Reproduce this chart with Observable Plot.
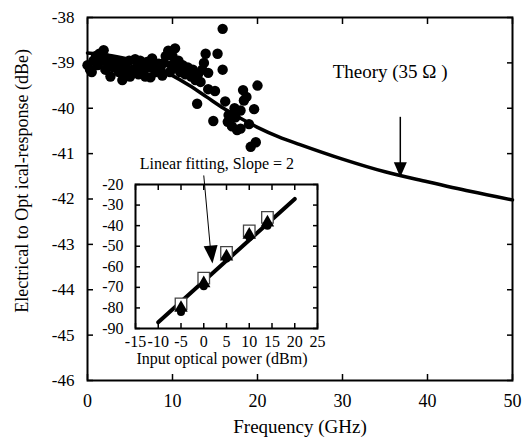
<!DOCTYPE html>
<html><head><meta charset="utf-8">
<script src="https://cdn.jsdelivr.net/npm/d3@7"></script>
<script src="https://cdn.jsdelivr.net/npm/@observablehq/plot@0.6"></script>
<style>
body{margin:0;background:#fff;}
#wrap{position:relative;width:524px;height:441px;background:#fff;}
#wrap svg{position:absolute;left:0;top:0;}
#wrap svg, #wrap svg text{font-family:"Liberation Serif","DejaVu Serif",serif !important;}
</style></head><body><div id="wrap"></div>
<script>
// ---- main chart data ----
const measFreq = [0.0,0.3,0.7,1.0,1.4,1.9,2.3,2.7,3.0,3.3,
  3.7,4.1,4.5,4.9,5.3,5.6,6.0,6.4,6.8,7.2,
  7.6,8.0,8.4,8.8,9.2,9.5,9.9,10.3,10.7,10.9,
  0.5,1.2,1.7,2.1,2.5,3.5,4.0,4.3,5.0,5.8,6.2,6.6,7.0,7.4,7.9,8.6,9.0,9.7,10.0,10.5,11.2,11.8,12.4,13.0,
  11.5,12.2,12.7,13.3,13.5,13.7,13.9,14.2,12.9,14.2,15.0,15.3,15.9,15.9,
  16.2,14.8,16.5,17.0,17.4,17.6,18.0,18.4,18.3,18.7,19.0,19.6,20.0,19.2,19.8,16.6,17.3,18.0];
const measDBe = [-39.05,-39.15,-38.95,-38.85,-38.8,-38.72,-38.9,-39.3,-39.1,-38.95,
  -39.2,-39.38,-39.1,-38.95,-39.15,-38.92,-39.25,-39.05,-39.3,-39.1,
  -38.9,-39.2,-39.02,-39.28,-38.85,-38.73,-39.05,-38.68,-38.95,-39.2,
  -39.2,-39.05,-38.95,-39.15,-39.05,-39.05,-39.0,-39.25,-39.3,-39.1,-38.95,-39.15,-38.98,-39.32,-39.05,-39.15,-39.0,-39.2,-38.85,-39.1,-39.05,-39.1,-39.15,-39.25,
  -39.25,-39.3,-39.38,-39.42,-39.15,-39.0,-38.8,-39.22,-39.9,-39.58,-39.62,-38.8,-39.15,-38.25,
  -39.85,-40.28,-40.3,-40.4,-40.2,-40.48,-40.05,-39.83,-39.6,-39.75,-40.35,-40.02,-39.5,-40.85,-40.75,-40.15,-40.0,-40.45];
const theoryFreq = [0,2,5,8,10,12,14,16,18,20,22.5,25,30,35,40,45,50];
const theoryDBe = [-38.78,-38.82,-38.93,-39.12,-39.28,-39.5,-39.75,-40.0,-40.22,-40.42,-40.63,-40.8,-41.12,-41.4,-41.62,-41.83,-42.02];
const xTicks = [0,10,20,30,40,50];
const yTicks = [-46,-45,-44,-43,-42,-41,-40,-39,-38];
const theoryLabel = "Theory (35 \u03A9 )";
const theoryLabelAt = [35.6, -39.2];
const theoryArrow = {x: 36.8, yFrom: -40.2, yTo: -41.3, tip: -41.52};

// ---- inset data ----
const insetPower = [-5, 0, 5, 10, 14];
const insetSquare = [-78, -65.5, -53, -42.5, -36];
const insetTriangle = [-80, -68, -55, -44.5, -38.5];
const insetCircle = [-82, -69.5, -56, -45.5, -40];
const fitPower = [-10, 20];
const fitDBm = [-87, -27];
const insetXTicks = [-15,-10,-5,0,5,10,15,20,25];
const insetYTicks = [-90,-80,-70,-60,-50,-40,-30,-20];
const fitLabel = "Linear fitting, Slope = 2";
const fitArrow = {x1: 0, y1: -15.6, x2: 1.5, y2: -52, tipX: 1.92, tipY: -58.4};

const serif = "Liberation Serif";
const meas = measFreq.map((f, i) => ({f, v: measDBe[i]}));
const theory = theoryFreq.map((f, i) => ({f, v: theoryDBe[i]}));

const downHead = {draw(ctx) { ctx.moveTo(0, 0); ctx.lineTo(-6.5, -15); ctx.lineTo(6.5, -15); ctx.closePath(); }};
const tiltHead = {draw(ctx) { ctx.moveTo(0, 0); ctx.lineTo(5.1, -18.6); ctx.lineTo(-8.8, -17.2); ctx.closePath(); }};

const main = Plot.plot({
  width: 524, height: 441,
  marginLeft: 87, marginRight: 12, marginTop: 17, marginBottom: 61,
  style: {fontFamily: serif, background: "transparent", color: "black"},
  x: {domain: [0, 50]},
  y: {domain: [-46, -38]},
  marks: [
    Plot.axisX({ticks: xTicks, tickSize: 0, tickPadding: 14, fontSize: 18, label: null}),
    Plot.axisY({ticks: yTicks, tickSize: 0, tickPadding: 13, fontSize: 17, label: null, tickFormat: d => String(d)}),
    Plot.axisX({ticks: xTicks, anchor: "bottom", tickSize: 6, dy: -6, fill: "none", label: null, strokeWidth: 1.5}),
    Plot.axisX({ticks: xTicks, anchor: "top", tickSize: 6, dy: 6, fill: "none", label: null, strokeWidth: 1.5}),
    Plot.axisY({ticks: yTicks, anchor: "left", tickSize: 6, dx: 6, fill: "none", label: null, strokeWidth: 1.5}),
    Plot.axisY({ticks: yTicks, anchor: "right", tickSize: 6, dx: -6, fill: "none", label: null, strokeWidth: 1.5}),
    Plot.frame({stroke: "black", strokeWidth: 2}),
    Plot.line(theory, {x: "f", y: "v", curve: "monotone-x", stroke: "black", strokeWidth: 3.5}),
    Plot.dot(meas, {x: "f", y: "v", r: 5.2, fill: "black"}),
    Plot.text([theoryLabel], {x: () => theoryLabelAt[0], y: () => theoryLabelAt[1], text: d => d, fontSize: 19, fill: "black"}),
    Plot.ruleX([theoryArrow.x], {x: d => d, y1: theoryArrow.yFrom, y2: theoryArrow.yTo, stroke: "black", strokeWidth: 1.5}),
    Plot.dot([theoryArrow], {x: "x", y: "tip", symbol: downHead, fill: "black", stroke: "none"}),
    Plot.text(["Frequency (GHz)"], {frameAnchor: "bottom", dy: 52, text: d => d, fontSize: 19, fill: "black"}),
    Plot.text(["Electrical to Opt ical-response (dBe)"], {x: () => 0, y: () => -41.6, dx: -65, rotate: -90, text: d => d, fontSize: 18, fill: "black"})
  ]
});

const inset = Plot.plot({
  width: 524, height: 441,
  marginLeft: 135, marginRight: 207, marginTop: 184, marginBottom: 113,
  style: {fontFamily: serif, background: "transparent", color: "black"},
  x: {domain: [-15, 25]},
  y: {domain: [-90, -20]},
  marks: [
    Plot.frame({fill: "white", stroke: "none"}),
    Plot.axisX({ticks: insetXTicks, tickSize: 0, tickPadding: 7, fontSize: 16, label: null, tickFormat: d => String(d)}),
    Plot.axisY({ticks: insetYTicks, tickSize: 0, tickPadding: 12, fontSize: 16, label: null, tickFormat: d => String(d)}),
    Plot.axisX({ticks: insetXTicks, anchor: "bottom", tickSize: 5, dy: -5, fill: "none", label: null, strokeWidth: 1.5}),
    Plot.axisX({ticks: insetXTicks, anchor: "top", tickSize: 5, dy: 5, fill: "none", label: null, strokeWidth: 1.5}),
    Plot.axisY({ticks: insetYTicks, anchor: "left", tickSize: 5, dx: 5, fill: "none", label: null, strokeWidth: 1.5}),
    Plot.axisY({ticks: insetYTicks, anchor: "right", tickSize: 5, dx: -5, fill: "none", label: null, strokeWidth: 1.5}),
    Plot.frame({stroke: "black", strokeWidth: 2}),
    Plot.line(fitPower.map((p, i) => ({p, v: fitDBm[i]})), {x: "p", y: "v", stroke: "black", strokeWidth: 4}),
    Plot.dot(insetPower.map((p, i) => ({p, v: insetSquare[i]})), {x: "p", y: "v", symbol: "square", r: 6.5, fill: "white", stroke: "#444", strokeWidth: 1.3}),
    Plot.dot(insetPower.map((p, i) => ({p, v: insetCircle[i]})), {x: "p", y: "v", r: 4, fill: "black"}),
    Plot.dot(insetPower.map((p, i) => ({p, v: insetTriangle[i]})), {x: "p", y: "v", symbol: "triangle", r: 5, fill: "black"}),
    Plot.link([fitArrow], {x1: "x1", y1: "y1", x2: "x2", y2: "y2", stroke: "black", strokeWidth: 1}),
    Plot.dot([fitArrow], {x: "tipX", y: "tipY", symbol: tiltHead, fill: "black", stroke: "none"}),
    Plot.text([fitLabel], {x: () => 2.9, y: () => -9.8, text: d => d, fontSize: 16, fill: "black"}),
    Plot.text(["Input optical power (dBm)"], {x: () => 4, y: () => -90, dy: 30, text: d => d, fontSize: 16, fill: "black"})
  ]
});

const wrap = document.getElementById("wrap");
wrap.appendChild(main);
wrap.appendChild(inset);
</script></body></html>
